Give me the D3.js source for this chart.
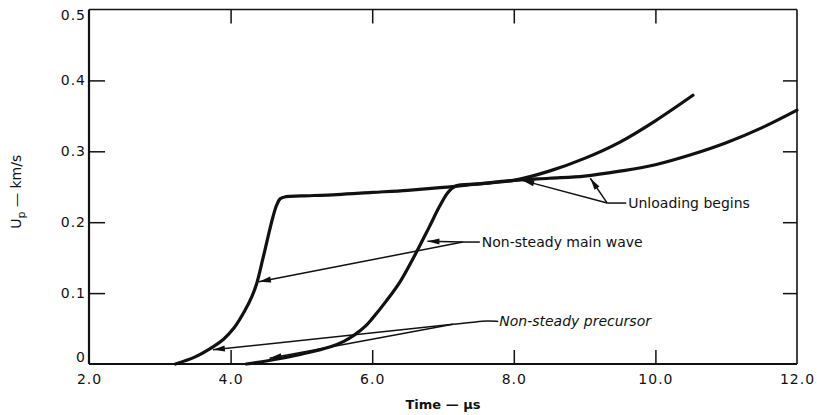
<!DOCTYPE html>
<html>
<head>
<meta charset="utf-8">
<script src="https://cdn.jsdelivr.net/npm/d3@7"></script>
<style>
  html, body { margin: 0; padding: 0; background: #fff; }
  svg { display: block; }
  text { font-family: "DejaVu Sans", "Liberation Sans", sans-serif; fill: #111; }
</style>
</head>
<body>
<svg id="chart" width="817" height="415"></svg>
<script>
// Particle velocity histories (time in µs, Up in km/s)
const wave1Time = [3.22, 3.5, 3.7, 3.9, 4.05, 4.2, 4.3, 4.37, 4.45, 4.53, 4.6, 4.65, 4.7, 4.78, 5.0, 5.5, 6.0, 6.5, 7.0, 7.5, 8.0, 8.5, 9.0, 9.5, 10.0, 10.5, 11.0, 11.5, 12.0];
const wave1Up   = [0, 0.010, 0.021, 0.035, 0.051, 0.075, 0.095, 0.114, 0.146, 0.180, 0.208, 0.224, 0.233, 0.236, 0.237, 0.239, 0.242, 0.245, 0.249, 0.254, 0.259, 0.262, 0.265, 0.272, 0.281, 0.295, 0.312, 0.333, 0.358];

const wave2Time = [4.22, 4.6, 5.0, 5.4, 5.6, 5.75, 5.9, 6.0, 6.2, 6.4, 6.6, 6.8, 6.95, 7.07, 7.18, 7.5, 8.0, 8.5, 9.0, 9.5, 10.0, 10.53];
const wave2Up   = [0, 0.006, 0.014, 0.024, 0.032, 0.041, 0.053, 0.064, 0.089, 0.117, 0.153, 0.192, 0.222, 0.242, 0.251, 0.254, 0.259, 0.272, 0.290, 0.313, 0.343, 0.379];

// Axis ticks
const xTicks = [2, 4, 6, 8, 10, 12];
const xTickLabels = ["2.0", "4.0", "6.0", "8.0", "10.0", "12.0"];
const yTicks = [0, 0.1, 0.2, 0.3, 0.4, 0.5];
const yTickLabels = ["0", "0.1", "0.2", "0.3", "0.4", "0.5"];

// Callouts: hub point (where leaders meet) and arrow tips, in data units
const unloadLabel = "Unloading begins";
const unloadHub = [9.32, 0.227];
const unloadTips = [[8.12, 0.259], [9.08, 0.262]];

const mainLabel = "Non-steady main wave";
const mainHub = [7.28, 0.172];
const mainTips = [[6.78, 0.173], [4.40, 0.116]];

const precLabel = "Non-steady precursor";
const precHub = [7.14, 0.056];
const precLeader = [[7.14, 0.056], [7.45, 0.059], [7.62, 0.061], [7.78, 0.060]];
const precTips = [[3.75, 0.020], [4.55, 0.008]];

const svg = d3.select("#chart");
const x = d3.scaleLinear().domain([2, 12]).range([89, 797]);
const y = d3.scaleLinear().domain([0, 0.5]).range([364, 9.5]);

// Frame
const frame = svg.append("g").attr("stroke", "#111").attr("fill", "none");
frame.append("line").attr("x1", x(2)).attr("x2", x(12)).attr("y1", y(0.5)).attr("y2", y(0.5)).attr("stroke-width", 1.4);
frame.append("line").attr("x1", x(12)).attr("x2", x(12)).attr("y1", y(0.5)).attr("y2", y(0)).attr("stroke-width", 1.6);
frame.append("line").attr("x1", x(2)).attr("x2", x(2)).attr("y1", y(0.5)).attr("y2", y(0)).attr("stroke-width", 2.2);
frame.append("line").attr("x1", x(2)).attr("x2", x(12)).attr("y1", y(0)).attr("y2", y(0)).attr("stroke-width", 2.2);

// Axes with inward ticks
const styleAxis = g => {
  g.select(".domain").remove();
  g.selectAll(".tick line").attr("stroke", "#111").attr("stroke-width", 1.5);
  g.selectAll(".tick text").style("font-size", "14px").attr("fill", "#111").style("letter-spacing", "1px");
};
const inner = v => v !== 2 && v !== 12;
const innerY = v => v !== 0 && v !== 0.5;

const xBottom = svg.append("g").attr("transform", `translate(0,${y(0)})`)
  .call(d3.axisBottom(x).tickValues(xTicks).tickSizeInner(-14).tickSizeOuter(0).tickPadding(10)
    .tickFormat((d, i) => xTickLabels[i]));
styleAxis(xBottom);
xBottom.selectAll(".tick line").filter(d => !inner(d)).remove();

const xTop = svg.append("g").attr("transform", `translate(0,${y(0.5)})`)
  .call(d3.axisTop(x).tickValues(xTicks.filter(inner)).tickSizeInner(-14).tickSizeOuter(0).tickFormat(""));
styleAxis(xTop);

const yLeft = svg.append("g").attr("transform", `translate(${x(2)},0)`)
  .call(d3.axisLeft(y).tickValues(yTicks).tickSizeInner(-16).tickSizeOuter(0).tickPadding(3)
    .tickFormat((d, i) => yTickLabels[i]));
styleAxis(yLeft);
yLeft.selectAll(".tick line").filter(d => !innerY(d)).remove();
yLeft.selectAll(".tick text").attr("dy", d => d === 0 ? "-0.15em" : d === 0.5 ? "0.7em" : "0.32em");

const yRight = svg.append("g").attr("transform", `translate(${x(12)},0)`)
  .call(d3.axisRight(y).tickValues(yTicks.filter(innerY)).tickSizeInner(-14).tickSizeOuter(0).tickFormat(""));
styleAxis(yRight);

// Axis titles
svg.append("text")
  .attr("x", x(7)).attr("y", 409)
  .attr("text-anchor", "middle")
  .style("font-size", "13px").style("font-weight", "bold")
  .text("Time — µs");

const yTitle = svg.append("text")
  .attr("transform", `translate(21,${(y(0) + y(0.5)) / 2 + 5}) rotate(-90)`)
  .attr("text-anchor", "middle")
  .style("font-size", "14px");
yTitle.append("tspan").text("U");
yTitle.append("tspan").attr("dy", "4").style("font-size", "11px").text("p");
yTitle.append("tspan").attr("dy", "-4").text(" — km/s");

// Curves
const line = d3.line().x(d => x(d[0])).y(d => y(d[1])).curve(d3.curveCatmullRom.alpha(0.5));
const wave1 = wave1Time.map((t, i) => [t, wave1Up[i]]);
const wave2 = wave2Time.map((t, i) => [t, wave2Up[i]]);
svg.append("g").attr("fill", "none").attr("stroke", "#111").attr("stroke-width", 3.2)
  .attr("stroke-linecap", "round").attr("stroke-linejoin", "round")
  .selectAll("path").data([wave1, wave2]).join("path").attr("d", line);

// Callout leaders with arrowheads
const ann = svg.append("g");
function arrow(from, to) {
  const x0 = x(from[0]), y0 = y(from[1]), x1 = x(to[0]), y1 = y(to[1]);
  ann.append("line").attr("x1", x0).attr("y1", y0).attr("x2", x1).attr("y2", y1)
    .attr("stroke", "#111").attr("stroke-width", 1.5);
  const a = Math.atan2(y1 - y0, x1 - x0), L = 12, W = 3;
  const bx = x1 - L * Math.cos(a), by = y1 - L * Math.sin(a);
  const px = -Math.sin(a) * W, py = Math.cos(a) * W;
  ann.append("path")
    .attr("d", `M${x1},${y1}L${bx + px},${by + py}L${bx - px},${by - py}Z`)
    .attr("fill", "#111");
}
function leader(hub, dx) {
  const hx = x(hub[0]), hy = y(hub[1]);
  ann.append("line").attr("x1", hx).attr("y1", hy).attr("x2", hx + dx).attr("y2", hy)
    .attr("stroke", "#111").attr("stroke-width", 1.5);
  return [hx + dx + 2, hy];
}

unloadTips.forEach(t => arrow(unloadHub, t));
let p = leader(unloadHub, 19);
ann.append("text").attr("x", p[0]).attr("y", p[1] + 5).style("font-size", "14px").text(unloadLabel);

mainTips.forEach(t => arrow(mainHub, t));
p = leader(mainHub, 17);
ann.append("text").attr("x", p[0]).attr("y", p[1] + 5).style("font-size", "14px").text(mainLabel);

precTips.forEach(t => arrow(precHub, t));
ann.append("path").attr("d", d3.line().x(d => x(d[0])).y(d => y(d[1])).curve(d3.curveBasis)(precLeader))
  .attr("fill", "none").attr("stroke", "#111").attr("stroke-width", 1.5);
const pe = precLeader[precLeader.length - 1];
ann.append("text").attr("x", x(pe[0]) + 1).attr("y", y(pe[1]) + 5)
  .style("font-size", "14px").style("font-style", "italic").text(precLabel);
</script>
</body>
</html>
